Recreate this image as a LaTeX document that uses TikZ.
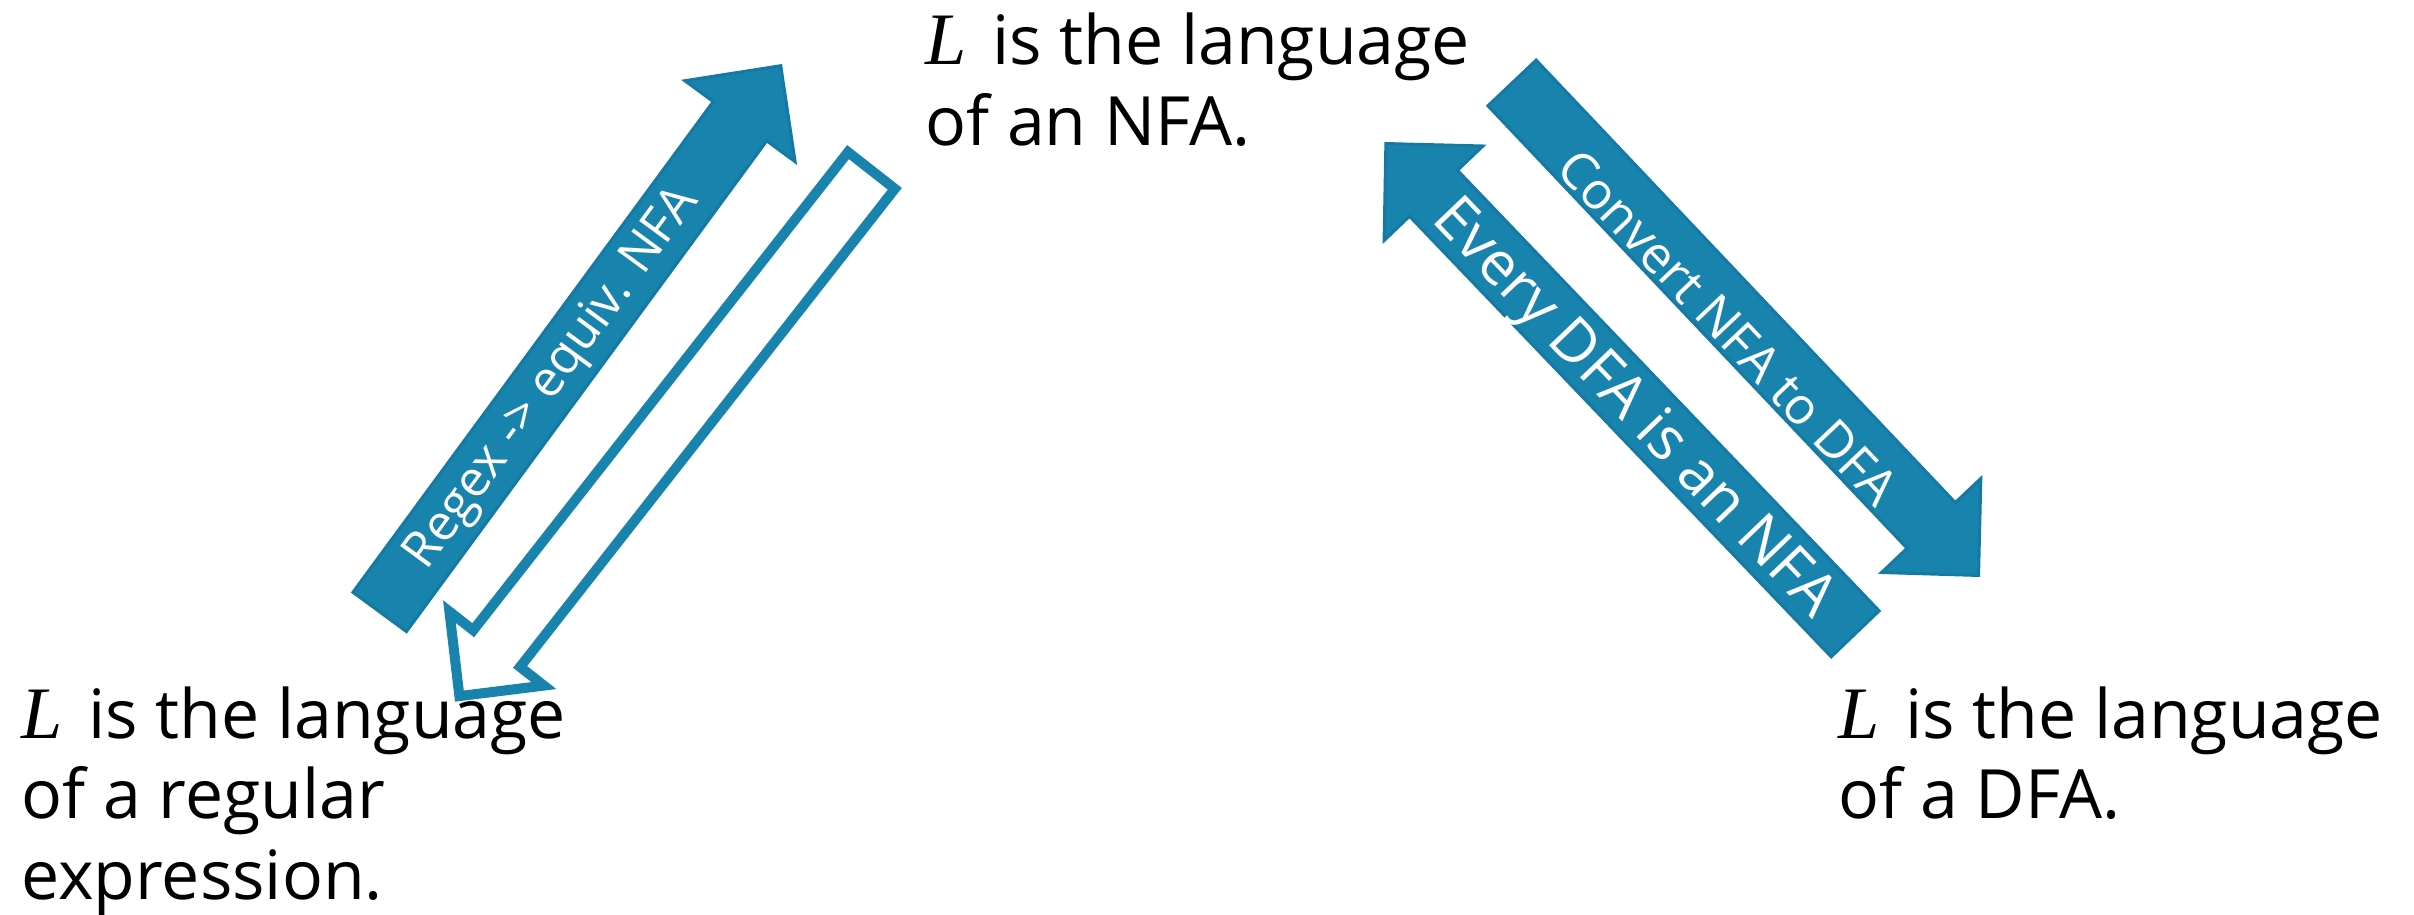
\documentclass[tikz,border=0pt]{standalone}
\usepackage{fontspec}
\setmainfont{Open Sans}
\newfontfamily\Lserif{Liberation Serif}
\usetikzlibrary{calc}
\definecolor{arrowblue}{RGB}{24,131,173}
\definecolor{arrowedge}{RGB}{20,122,163}
\newcommand{\Lsym}{{\fontsize{37}{40}\selectfont\Lserif\itshape L}\hspace{4pt}}
% block arrow path: #1 tail, #2 tip, #3 tail inset, #4 shaft half width,
% #5 tip inset, #6 head base distance from tip, #7 barb half width
\newcommand{\blockarrowpath}[7]{%
 ($(#1)!#3!(#2)!#4!90:(#2)$) --
 ($(#2)!#6!(#1)!#4!-90:(#1)$) --
 ($(#2)!#6!(#1)!#7!-90:(#1)$) --
 ($(#2)!#5!(#1)$) --
 ($(#2)!#6!(#1)!#7!90:(#1)$) --
 ($(#2)!#6!(#1)!#4!90:(#1)$) --
 ($(#1)!#3!(#2)!#4!-90:(#2)$) -- cycle}
\tikzset{
  solidarrow/.style={fill=arrowblue, draw=arrowedge, line width=1.5pt, line join=miter},
  hollowarrow/.style={fill=white, draw=arrowblue, line width=5pt, line join=miter},
  bodytext/.style={anchor=base west, inner sep=0pt, text=black, font=\fontsize{34}{40}\selectfont},
  lbl/.style={inner sep=0pt, text=white}
}
\begin{document}
\begin{tikzpicture}[x=0.5pt,y=-0.5pt]
\useasboundingbox (0,0) rectangle (2414,915);
% text blocks
\node[bodytext] (re1) at (21,738) {\Lsym{} is the language};
\node[bodytext] (re2) at (21,818) {of a regular};
\node[bodytext] (re3) at (21,899) {expression.};
\node[bodytext] (nfa1) at (925,65) {\Lsym{} is the language};
\node[bodytext] (nfa2) at (925,146) {of an NFA.};
\node[bodytext] (dfa1) at (1838,738) {\Lsym{} is the language};
\node[bodytext] (dfa2) at (1838,818) {of a DFA.};
% arrow end points
\coordinate (regexTail) at (378.8,613.1);
\coordinate (regexTip) at (782,64);
\coordinate (backTail) at (874.5,166.5);
\coordinate (backTip) at (455,701.7);
\coordinate (convTail) at (1511,81.9);
\coordinate (convTip) at (1980,577);
\coordinate (everyTail) at (1856.2,634.9);
\coordinate (everyTip) at (1384.4,142);
% arrows
\path[solidarrow] \blockarrowpath{regexTail}{regexTip}{0.75pt}{16.6pt}{1.06pt}{35.5pt}{34.2pt};
\path[hollowarrow] \blockarrowpath{backTail}{backTip}{2.5pt}{14.875pt}{3.55pt}{33.75pt}{30pt};
\path[solidarrow] \blockarrowpath{convTail}{convTip}{0.75pt}{16.6pt}{1.06pt}{35.5pt}{34.2pt};
\path[solidarrow] \blockarrowpath{everyTail}{everyTip}{0.75pt}{16.6pt}{1.06pt}{35.5pt}{34.2pt};
% labels
\node[lbl, rotate=53.71, font=\fontsize{25}{30}\selectfont] (regexlbl) at (553,379) {Regex -> equiv. NFA};
\node[lbl, rotate=-46.54, font=\fontsize{25.5}{30}\selectfont] (convlbl) at (1728,327) {Convert NFA to DFA};
\node[lbl, rotate=-46.25, font=\fontsize{30}{34}\selectfont] (everylbl) at (1632,410) {Every DFA is an NFA};
\end{tikzpicture}
\end{document}
